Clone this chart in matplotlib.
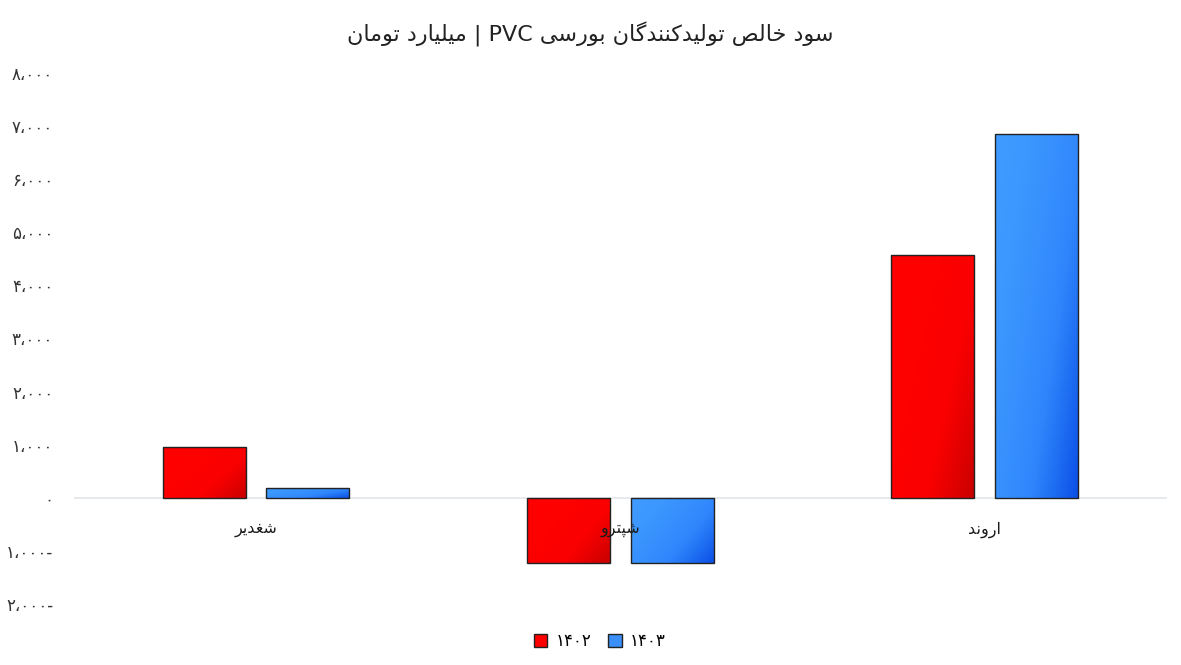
import re
import numpy as np
import matplotlib
matplotlib.use("Agg")
import matplotlib.pyplot as plt
from matplotlib.colors import LinearSegmentedColormap
from matplotlib.patches import Patch, Rectangle

# data (billion toman)
companies = ["شغدیر", "شپترو", "اروند"]
years = ["۱۴۰۲", "۱۴۰۳"]
profit_1402 = [960, -1240, 4580]
profit_1403 = [190, -1225, 6855]
title = "سود خالص تولیدکنندگان بورسی PVC | میلیارد تومان"
yticks = [-2000, -1000, 0, 1000, 2000, 3000, 4000, 5000, 6000, 7000, 8000]

# arabic presentation forms: isolated, final, initial, medial
FORMS = {
    "ا": ("\uFE8D", "\uFE8E", None, None),
    "ب": ("\uFE8F", "\uFE90", "\uFE91", "\uFE92"),
    "پ": ("\uFB56", "\uFB57", "\uFB58", "\uFB59"),
    "ت": ("\uFE95", "\uFE96", "\uFE97", "\uFE98"),
    "خ": ("\uFEA5", "\uFEA6", "\uFEA7", "\uFEA8"),
    "د": ("\uFEA9", "\uFEAA", None, None),
    "ر": ("\uFEAD", "\uFEAE", None, None),
    "س": ("\uFEB1", "\uFEB2", "\uFEB3", "\uFEB4"),
    "ش": ("\uFEB5", "\uFEB6", "\uFEB7", "\uFEB8"),
    "ص": ("\uFEB9", "\uFEBA", "\uFEBB", "\uFEBC"),
    "غ": ("\uFECD", "\uFECE", "\uFECF", "\uFED0"),
    "ک": ("\uFB8E", "\uFB8F", "\uFB90", "\uFB91"),
    "گ": ("\uFB92", "\uFB93", "\uFB94", "\uFB95"),
    "ل": ("\uFEDD", "\uFEDE", "\uFEDF", "\uFEE0"),
    "م": ("\uFEE1", "\uFEE2", "\uFEE3", "\uFEE4"),
    "ن": ("\uFEE5", "\uFEE6", "\uFEE7", "\uFEE8"),
    "و": ("\uFEED", "\uFEEE", None, None),
    "ی": ("\uFBFC", "\uFBFD", "\uFBFE", "\uFBFF"),
}


def shape(word):
    out = []
    for i, ch in enumerate(word):
        if ch not in FORMS:
            out.append(ch)
            continue
        prev = word[i - 1] if i > 0 else ""
        nxt = word[i + 1] if i + 1 < len(word) else ""
        join_prev = prev in FORMS and FORMS[prev][2] is not None
        join_next = FORMS[ch][2] is not None and nxt in FORMS
        if join_prev and join_next:
            out.append(FORMS[ch][3])
        elif join_prev:
            out.append(FORMS[ch][1])
        elif join_next:
            out.append(FORMS[ch][2])
        else:
            out.append(FORMS[ch][0])
    return "".join(out)


def fa(text):
    # shape then lay out right-to-left, keeping latin runs as they are
    parts = re.split(r"([A-Za-z0-9]+)", shape(text))
    parts = [p if re.match(r"[A-Za-z0-9]", p) else p[::-1] for p in parts if p]
    return "".join(parts[::-1])


def fa_num(v):
    s = f"{abs(v):,}".replace(",", "،")
    s = s.translate(str.maketrans("0123456789", "۰۱۲۳۴۵۶۷۸۹"))
    return s + "-" if v < 0 else s


plt.rcParams["font.family"] = ["DejaVu Sans"]

fig = plt.figure(figsize=(11.81, 6.65), dpi=100)
ax = fig.add_axes([0.0627, 0.092, 0.9253, 0.798])

red_cmap = LinearSegmentedColormap.from_list("r", ["#ff0000", "#fa0000", "#c80000"])
blue_cmap = LinearSegmentedColormap.from_list("b", ["#3f9bff", "#2f86fc", "#0a4ee6"])

x = np.arange(len(companies))
width = 0.228
offset = 0.142

# diagonal gradient (darker towards bottom right), reused for every bar
gx, gy = np.meshgrid(np.linspace(0, 1, 60), np.linspace(0, 1, 200))
grad = (0.6 * gx + 0.4 * gy) ** 1.6

for vals, dx, cmap in [(profit_1402, -offset, red_cmap), (profit_1403, offset, blue_cmap)]:
    bars = ax.bar(x + dx, vals, width, color="none", edgecolor="#222222", linewidth=1.0, zorder=3)
    for b in bars:
        x0, y0 = b.get_x(), b.get_y()
        w, h = b.get_width(), b.get_height()
        ylo, yhi = min(y0, y0 + h), max(y0, y0 + h)
        im = ax.imshow(grad, cmap=cmap, extent=[x0, x0 + w, ylo, yhi], origin="upper",
                       aspect="auto", zorder=2, interpolation="bilinear")
        im.set_clip_path(Rectangle((x0, ylo), w, yhi - ylo, transform=ax.transData))

ax.axhline(0, color="#e3e6ea", linewidth=1.2, zorder=1)

ax.set_xlim(-0.5, 2.5)
ax.set_ylim(-2000, 8000)
ax.set_yticks(yticks)
ax.set_yticklabels([fa_num(v) for v in yticks], fontsize=12, color="#333333")
ax.tick_params(axis="y", length=0, pad=15)
ax.set_xticks([])
for s in ax.spines.values():
    s.set_visible(False)

for i, name in enumerate(companies):
    ax.annotate(fa(name), (i, 0), xytext=(0, -23), textcoords="offset points",
                ha="center", va="center", fontsize=11.5, color="#1a1a1a", zorder=5)

fig.text(0.5, 0.948, fa(title), ha="center", va="center", fontsize=16, color="#222222")

handles = [Patch(facecolor="#ff0000", edgecolor="#222222", label=years[0]),
           Patch(facecolor="#3a8ff8", edgecolor="#222222", label=years[1])]
fig.legend(handles=handles, loc="center", bbox_to_anchor=(0.508, 0.036), ncol=2,
           frameon=False, fontsize=12, handlelength=0.8, handleheight=0.8,
           handletextpad=0.5, columnspacing=1.0)

fig.savefig("out.png", dpi=100)
